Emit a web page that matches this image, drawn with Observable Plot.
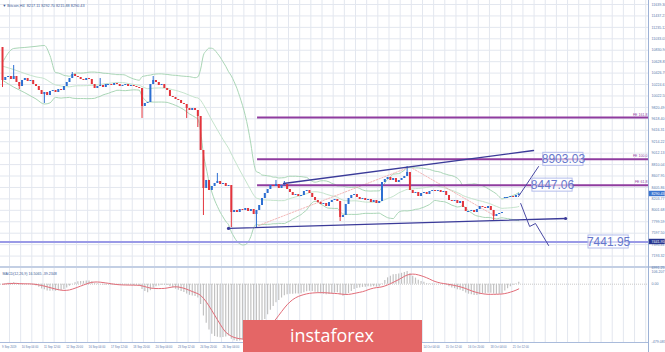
<!DOCTYPE html>
<html><head><meta charset="utf-8">
<script src="https://cdn.jsdelivr.net/npm/d3@7"></script>
<script src="https://cdn.jsdelivr.net/npm/@observablehq/plot@0.6"></script>
<style>
body{margin:0;background:#fff;}
#wrap{position:relative;width:665px;height:352px;overflow:hidden;background:#fff;font-family:"Liberation Sans",Arial,sans-serif;}
#main{position:absolute;left:0;top:0;z-index:2;}
#macd{position:absolute;left:0;top:268px;z-index:1;}
#sep{position:absolute;left:0;top:266px;width:665px;height:2px;background:#c3cfe4;}
#logo{position:absolute;left:243px;top:320px;width:179px;height:32px;background:#e46666;z-index:3;}
</style></head><body>
<div id="wrap"><div id="sep"></div><div id="macd"></div><div id="main"></div>
<div id="logo"><svg width="179" height="32"><text x="47" y="22" font-size="19" fill="#fff" font-family="Open Sans, sans-serif" textLength="84" lengthAdjust="spacingAndGlyphs">instaforex</text></svg></div>
</div>
<script>
// ---- data ----
const closes = [10296,10349,10367,10314,10367,10261,10190,10296,10331,10278,
 10296,10225,10190,10119,10049,10084,10031,10102,10119,10084,
 10137,10119,10190,10261,10331,10402,10367,10349,10314,10296,
 10331,10314,10225,10155,10190,10208,10172,10225,10225,10208,
 10243,10225,10190,10208,10225,10190,10208,10190,10172,10155,
 9837,9890,9907,10225,10296,10261,10208,10225,10155,10119,
 10013,9996,9960,9943,9890,9872,9801,9766,9801,9766,
 9660,9059,8387,8529,8352,8423,8476,8511,8458,8476,
 8423,8440,7963,7999,7963,8016,7999,8034,7981,8016,
 7928,7999,8087,8211,8299,8370,8440,8423,8458,8387,
 8440,8458,8370,8317,8264,8281,8246,8264,8334,8352,
 8299,8228,8175,8140,8105,8122,8069,8140,8175,8193,
 8158,7875,7910,8105,8211,8264,8281,8228,8193,8211,
 8175,8193,8140,8175,8122,8158,8493,8547,8582,8529,
 8564,8493,8529,8564,8600,8670,8352,8299,8317,8246,
 8299,8317,8281,8334,8352,8334,8352,8317,8334,8264,
 8175,8158,8175,8122,8158,8052,7981,7981,7999,7963,
 8016,8069,8052,8034,8069,7999,7893,7928,7946,7963,
 8228,8228,8246,8228,8264,8290];
const firstOpen = 10879;
const gapOpenIdx = [180];
const gapOpenVal = [8211];
const wickIdx  = [0, 4, 6, 15, 25, 35, 50, 54, 66, 70, 72, 77, 82, 91, 98, 101, 121, 145, 176];
const wickHigh = [10879, 10561, null, null, 10437, 10331, null, 10367, null, null, null, 8653, null, null, 8529, 8511, null, 8776, null];
const wickLow  = [10172, null, 10137, 9890, null, null, 9625, null, 9625, 9465, 7910, null, 7698, 7698, null, null, 7804, null, 7822];

const priceTicks = [11639.30,11437.21,11235.12,11033.03,10830.94,10628.85,10426.76,10224.67,10022.58,9820.49,9618.40,9416.31,9214.22,9012.13,8810.04,8607.95,8405.86,8203.77,8001.68,7799.59,7597.50,7395.41,7193.32,6991.25];

// time-axis labels that are visible (the ones under the logo are hidden in the reference)
const dateIdx = [0,7,15,23,31,39,47,55,63,71,79,151,159,167,175,183];
const dateText = ["9 Sep 2019","10 Sep 04:00","11 Sep 12:00","12 Sep 20:00","16 Sep 04:00","17 Sep 12:00","18 Sep 20:00","20 Sep 04:00","23 Sep 12:00","24 Sep 20:00","26 Sep 04:00","14 Oct 04:00","15 Oct 12:00","16 Oct 20:00","18 Oct 04:00","21 Oct 12:00"];

// Bollinger values read at the left edge (before a full 20-bar window exists)
const bbEarlyIdx = [0, 4, 8, 12, 15, 17];
const bbEarlyUp  = [10614, 10862, 10880, 10900, 10915, 10738];
const bbEarlyMid = [10550, 10490, 10420, 10360, 10330, 10270];
const bbEarlyLow = [10300, 10180, 10080, 9970, 9880, 9900];

const feLevels = [9640.5, 8903.03, 8447.06];
const feNames = ["FE 161.8", "FE 100.0", "FE 61.8"];
const supportLevel = 7441.95;
const channelUpper = [[100.7, 8476], [190.3, 9059]];
const channelLower = [[81, 7681], [201.8, 7857]];
const projUp = [[184.9, 8246], [192.1, 8776]];
const projDown = [[185.7, 8122], [188.9, 7716], [191.0, 7769], [195.7, 7380]];
const pinkA = [[91.8, 7734], [145.5, 8759]];
const pinkB = [[147, 8741], [175.6, 7928]];
const annotations = [8903.03, 8447.06, 7441.95];
const lastPrice = 8290.43;

// ---- derived ----
const N = closes.length;
const candles = closes.map((c, i) => {
  const g = gapOpenIdx.indexOf(i);
  const o = g >= 0 ? gapOpenVal[g] : (i === 0 ? firstOpen : closes[i - 1]);
  const w = wickIdx.indexOf(i);
  let hi = Math.max(o, c), lo = Math.min(o, c);
  if (w >= 0) { if (wickHigh[w] != null) hi = Math.max(hi, wickHigh[w]); if (wickLow[w] != null) lo = Math.min(lo, wickLow[w]); }
  return {i, o, c, hi, lo, up: c >= o};
});
const bands = bbEarlyIdx.map((i, k) => ({i, u: bbEarlyUp[k], m: bbEarlyMid[k], l: bbEarlyLow[k]}));
for (let i = 19; i < N; i++) {
  const w = closes.slice(i - 19, i + 1);
  const m = d3.mean(w);
  const s = Math.sqrt(d3.mean(w, v => (v - m) ** 2));
  bands.push({i, m, u: m + 2 * s, l: m - 2 * s});
}
const k12 = 2 / 13, k26 = 2 / 27;
let e12 = closes[0], e26 = closes[0];
const macd = closes.map((c, i) => { if (i > 0) { e12 = c * k12 + e12 * (1 - k12); e26 = c * k26 + e26 * (1 - k26); } return e12 - e26; });
const signal = macd.map((v, i) => d3.mean(macd.slice(Math.max(0, i - 8), i + 1)));

const X0 = -0.72, X1 = 231.5;
const grid = d3.range(-1.5, 232, 4);
const BULL = "#2d6fd2", BEAR = "#e3343c", GRID = "#e3e7ef", AX = "#5b79ad";
const FONT = "Liberation Sans, Arial, sans-serif";
const annX = [201, 197.1, 217.2];

const main = Plot.plot({
  width: 665, height: 272, marginTop: 0, marginBottom: 0, marginLeft: 0, marginRight: 17,
  x: {domain: [X0, X1], range: [0, 648], axis: null},
  y: {domain: [6991.25, 11639.3], range: [267, 4], axis: null},
  style: {background: "transparent", fontFamily: FONT, overflow: "visible"},
  marks: [
    Plot.ruleY(priceTicks.slice(0, -1), {stroke: GRID, strokeWidth: 1}),
    Plot.ruleX(grid, {y1: 6991.25 + 17.673 * 1, y2: 11639.3 + 17.673 * 4, stroke: GRID, strokeWidth: 1}),
    Plot.line(bands, {x: "i", y: "u", stroke: "#aad6b6", strokeWidth: 1, curve: "monotone-x"}),
    Plot.line(bands, {x: "i", y: "m", stroke: "#c5e4cc", strokeWidth: 1, curve: "monotone-x"}),
    Plot.line(bands, {x: "i", y: "l", stroke: "#aad6b6", strokeWidth: 1, curve: "monotone-x"}),
    Plot.line(pinkA, {x: d => d[0], y: d => d[1], stroke: "#f0a4a4", strokeWidth: 0.8, strokeDasharray: "1.5,1.5"}),
    Plot.line(pinkB, {x: d => d[0], y: d => d[1], stroke: "#f0a4a4", strokeWidth: 0.8, strokeDasharray: "1.5,1.5"}),
    Plot.ruleY([supportLevel], {x1: X0, x2: X1, stroke: "#9a9ae6", strokeWidth: 2}),
    Plot.ruleY(feLevels, {x1: 91.4, x2: X1, stroke: "#8f3c9f", strokeWidth: 2}),
    Plot.text(feLevels, {x: X1, y: d => d, text: (d, i) => feNames[i], textAnchor: "end", dx: -1, dy: -3, fontSize: 3.6, fill: "#8f3c9f"}),
    Plot.ruleX(candles, {x: "i", y1: "lo", y2: "hi", stroke: d => d.up ? BULL : BEAR, strokeWidth: 1}),
    Plot.ruleX(candles.filter(d => d.o !== d.c), {x: "i", y1: "o", y2: "c", stroke: d => d.up ? BULL : BEAR, strokeWidth: 2}),
    Plot.ruleY(candles.filter(d => d.o === d.c), {y: "c", x1: d => d.i - 0.4, x2: d => d.i + 0.4, stroke: BULL, strokeWidth: 1}),
    Plot.line(channelUpper, {x: d => d[0], y: d => d[1], stroke: "#3b3b99", strokeWidth: 1.3}),
    Plot.line(channelLower, {x: d => d[0], y: d => d[1], stroke: "#3b3b99", strokeWidth: 1.3}),
    Plot.dot(channelLower, {x: d => d[0], y: d => d[1], r: 1.6, fill: "#3b3b99"}),
    Plot.line(projUp, {x: d => d[0], y: d => d[1], stroke: "#4a4aa4", strokeWidth: 1}),
    Plot.line(projDown, {x: d => d[0], y: d => d[1], stroke: "#4a4aa4", strokeWidth: 1}),
    Plot.rect(annotations, {x1: (d, i) => annX[i] - 7.2, x2: (d, i) => annX[i] + 7.2, y1: d => d - 115, y2: d => d + 115, fill: "white", fillOpacity: 0.6, stroke: "#b4bdec", strokeWidth: 1}),
    Plot.text(annotations, {x: (d, i) => annX[i], y: d => d, text: d => d.toFixed(2), fontSize: 12, fill: "#6677cc", fontFamily: FONT}),
    Plot.ruleX([X1], {y1: 6991.25 - 17.673 * 1, y2: 11639.3 + 17.673 * 4, stroke: "#9db2d6", strokeWidth: 1}),
    Plot.text(priceTicks, {x: X1, y: d => d, text: d => d.toFixed(2), textAnchor: "start", dx: 3, fontSize: 3.6, fill: AX}),
    Plot.rect([lastPrice], {x1: X1 + 0.3, x2: X1 + 6, y1: d => d - 48, y2: d => d + 48, fill: "#3a74cf"}),
    Plot.text([lastPrice], {x: X1, y: d => d, text: d => d.toFixed(2), textAnchor: "start", dx: 3, fontSize: 3.6, fill: "white"}),
    Plot.rect([supportLevel], {x1: X1 + 0.3, x2: X1 + 6, y1: d => d - 48, y2: d => d + 48, fill: "#26358f"}),
    Plot.text([supportLevel], {x: X1, y: d => d, text: d => d.toFixed(2), textAnchor: "start", dx: 3, fontSize: 3.6, fill: "white"}),
    Plot.text(["\u25BC Bitcoin,H4  8217.11 8292.70 8215.88 8290.43"], {frameAnchor: "top-left", dx: 2, dy: 4, fontSize: 3.8, fill: "#3d5a96", textAnchor: "start"})
  ]
});
document.getElementById("main").appendChild(main);

// ---- MACD panel ----
const lo = d3.min([...macd, ...signal]), hi = d3.max([...macd, ...signal]);
const vAt = px => lo + (73 - px) / 70 * (hi - lo);
const macdPts = macd.map((v, i) => ({i, v, s: signal[i]}));
const macdPlot = Plot.plot({
  width: 665, height: 84, marginTop: 0, marginBottom: 0, marginLeft: 0, marginRight: 17,
  x: {domain: [X0, X1], range: [0, 648], axis: null},
  y: {domain: [lo, hi], range: [73, 3], axis: null},
  style: {background: "transparent", fontFamily: FONT},
  marks: [
    Plot.ruleX(grid, {y1: vAt(74), y2: vAt(0), stroke: GRID, strokeWidth: 1}),
    Plot.ruleY([0], {stroke: "#c9c9c9", strokeDasharray: "1,1"}),
    Plot.ruleX(macdPts, {x: "i", y1: 0, y2: "v", stroke: "#c2c2c2", strokeWidth: 1.2}),
    Plot.line(macdPts, {x: "i", y: "s", stroke: "#e26c78", strokeWidth: 1}),
    Plot.ruleY([vAt(74)], {stroke: "#a9bbdb", strokeWidth: 1}),
    Plot.ruleX([X1], {y1: vAt(84), y2: vAt(0), stroke: "#9db2d6", strokeWidth: 1}),
    Plot.text([hi, 0, lo], {x: X1, y: d => d, text: d => d === 0 ? "0.00" : d.toFixed(3), textAnchor: "start", dx: 3, fontSize: 3.6, fill: AX}),
    Plot.text(dateIdx, {x: d => d - 0.5, y: vAt(79), text: (d, i) => dateText[i], textAnchor: "start", dx: 1, fontSize: 2.8, fill: AX}),
    Plot.text(["MACD(12,26,9) " + macd[N - 1].toFixed(4) + " " + signal[N - 1].toFixed(4)], {frameAnchor: "top-left", dx: 2, dy: 4, fontSize: 3.6, fill: "#3d5a96", textAnchor: "start"})
  ]
});
document.getElementById("macd").appendChild(macdPlot);
</script>
</body></html>
